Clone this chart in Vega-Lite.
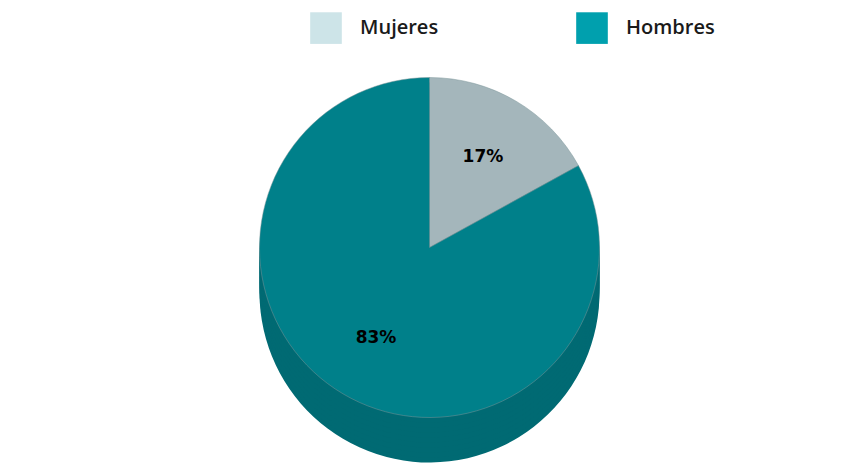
{
  "$schema": "https://vega.github.io/schema/vega-lite/v6.json",
  "width": 859,
  "height": 465,
  "padding": 0,
  "autosize": {"type": "fit", "contains": "padding"},
  "background": "white",
  "config": {"view": {"stroke": null}},
  "data": {"values": [
    {"sexo": "Mujeres", "pct": 17, "etiqueta": "17%"},
    {"sexo": "Hombres", "pct": 83, "etiqueta": "83%"}
  ]},
  "encoding": {
    "theta": {"field": "pct", "type": "quantitative", "stack": true},
    "order": {"field": "sexo", "sort": "descending"}
  },
  "layer": [
    {"mark": {"type": "arc", "radius": 170, "yOffset": 60}, "encoding": {"fill": {"field": "sexo", "scale": {"domain": ["Mujeres", "Hombres"], "range": ["#8a9da2", "#006a73"]}, "legend": null}}},
    {"mark": {"type": "arc", "radius": 170, "yOffset": 55}, "encoding": {"fill": {"field": "sexo", "scale": {"domain": ["Mujeres", "Hombres"], "range": ["#8a9da2", "#006a73"]}, "legend": null}}},
    {"mark": {"type": "arc", "radius": 170, "yOffset": 50}, "encoding": {"fill": {"field": "sexo", "scale": {"domain": ["Mujeres", "Hombres"], "range": ["#8a9da2", "#006a73"]}, "legend": null}}},
    {"mark": {"type": "arc", "radius": 170, "yOffset": 45}, "encoding": {"fill": {"field": "sexo", "scale": {"domain": ["Mujeres", "Hombres"], "range": ["#8a9da2", "#006a73"]}, "legend": null}}},
    {"mark": {"type": "arc", "radius": 170, "yOffset": 40}, "encoding": {"fill": {"field": "sexo", "scale": {"domain": ["Mujeres", "Hombres"], "range": ["#8a9da2", "#006a73"]}, "legend": null}}},
    {"mark": {"type": "arc", "radius": 170, "yOffset": 35}, "encoding": {"fill": {"field": "sexo", "scale": {"domain": ["Mujeres", "Hombres"], "range": ["#8a9da2", "#006a73"]}, "legend": null}}},
    {"mark": {"type": "arc", "radius": 170, "yOffset": 30}, "encoding": {"fill": {"field": "sexo", "scale": {"domain": ["Mujeres", "Hombres"], "range": ["#8a9da2", "#006a73"]}, "legend": null}}},
    {"mark": {"type": "arc", "radius": 170, "yOffset": 25}, "encoding": {"fill": {"field": "sexo", "scale": {"domain": ["Mujeres", "Hombres"], "range": ["#8a9da2", "#006a73"]}, "legend": null}}},
    {"mark": {"type": "arc", "radius": 170, "yOffset": 20}, "encoding": {"fill": {"field": "sexo", "scale": {"domain": ["Mujeres", "Hombres"], "range": ["#8a9da2", "#006a73"]}, "legend": null}}},
    {"mark": {"type": "arc", "radius": 170, "yOffset": 15, "stroke": "#7a9599", "strokeWidth": 0.5}, "encoding": {"color": {"field": "sexo", "scale": {"domain": ["Mujeres", "Hombres"], "range": ["#a4b6bb", "#00808a"]}, "legend": null}}},
    {"mark": {"type": "point", "filled": true, "opacity": 0, "shape": "square"}, "encoding": {"fill": {"field": "sexo", "type": "nominal", "scale": {"domain": ["Mujeres", "Hombres"], "range": ["#cde4e8", "#00a0ae"]}, "legend": {"orient": "none", "legendX": 310, "legendY": 12, "direction": "horizontal", "title": null, "symbolType": "square", "symbolSize": 1000, "symbolOpacity": 1, "symbolStrokeWidth": 0, "labelFont": "Open Sans", "labelFontSize": 20, "labelFontWeight": 600, "labelColor": "#1a1a1a", "labelOffset": 18, "columnPadding": 137, "labelLimit": 200}}}},
    {"mark": {"type": "text", "radius": 105, "yOffset": 15, "font": "DejaVu Sans", "fontSize": 17, "fontWeight": "bold", "color": "black"}, "encoding": {"text": {"field": "etiqueta"}}}
  ],
  "resolve": {"scale": {"fill": "independent", "color": "independent"}}
}
